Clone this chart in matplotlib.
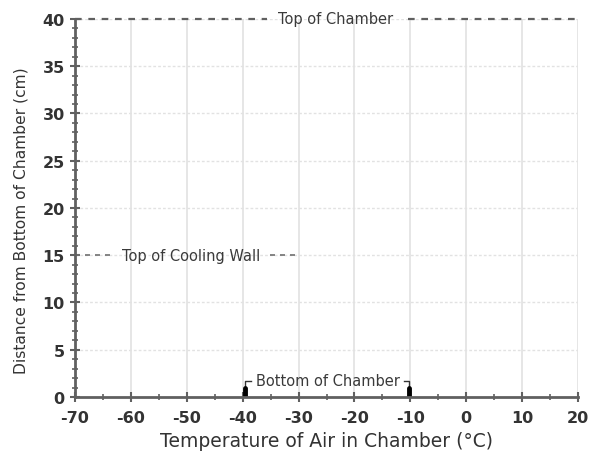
import numpy as np
import matplotlib.pyplot as plt
from matplotlib.ticker import MultipleLocator

plt.rcParams['font.family'] = ['DejaVu Sans']
plt.rcParams['axes.unicode_minus'] = False

# axis ranges and ticks
x_ticks = [-70, -60, -50, -40, -30, -20, -10, 0, 10, 20]
y_ticks = [0, 5, 10, 15, 20, 25, 30, 35, 40]

# top of chamber line (y=40), broken around its label
top_y = 40
top_segments = [(-70, -35.7), (-10.4, 20)]
top_label_x = -23.3

# top of cooling wall line (y=15)
wall_y = 15
wall_segments = [(-70, -63.7), (-35.1, -30.3)]
wall_label_x = -49.3

# bottom of chamber bracket
bottom_x = [-39.5, -10.2]
bracket_y = 1.7
bottom_label_x = -24.8

fig = plt.figure(figsize=(5.91, 4.52), dpi=100)
ax = fig.add_axes([0.127, 0.1195, 0.851, 0.8363])

ax.set_xlim(-70, 20)
ax.set_ylim(0, 40)
ax.set_xticks(x_ticks)
ax.set_yticks(y_ticks)
ax.xaxis.set_minor_locator(MultipleLocator(5))
ax.yaxis.set_minor_locator(MultipleLocator(1))

for xv in x_ticks[1:]:
    ax.axvline(xv, color='#e2e2e2', lw=1.2, zorder=0)
for yv in y_ticks[1:]:
    ax.axhline(yv, color='#e2e2e2', lw=1.0, ls=(0, (2, 1.5)), zorder=0)

for s in ['top', 'right']:
    ax.spines[s].set_visible(False)
for s in ['left', 'bottom']:
    ax.spines[s].set_color('#606060')
    ax.spines[s].set_linewidth(2.0)

ax.tick_params(which='major', direction='inout', length=7, width=1.5, color='#606060',
               labelsize=11.5, labelcolor='#333333', pad=4)
ax.tick_params(axis='x', which='major', pad=6)
ax.tick_params(which='minor', direction='inout', length=4, width=1.2, color='#606060')
for lab in ax.get_xticklabels() + ax.get_yticklabels():
    lab.set_fontweight('bold')

dash = (0, (3, 3))
for x0, x1 in top_segments:
    ax.plot([x0, x1], [top_y, top_y], color='#606060', lw=1.6, ls=dash, clip_on=False)
ax.text(top_label_x, top_y, 'Top of Chamber', ha='center', va='center',
        fontsize=10.5, color='#3a3a3a')

for x0, x1 in wall_segments:
    ax.plot([x0, x1], [wall_y, wall_y], color='#707070', lw=1.2, ls=dash)
ax.text(wall_label_x, wall_y, 'Top of Cooling Wall', ha='center', va='center',
        fontsize=10.5, color='#3a3a3a')

# bracket with markers
ax.plot([bottom_x[0], bottom_x[0], bottom_x[0] + 0.9], [0, bracket_y, bracket_y],
        color='#333333', lw=1.0)
ax.plot([bottom_x[1], bottom_x[1], bottom_x[1] - 0.9], [0, bracket_y, bracket_y],
        color='#333333', lw=1.0)
for xb in bottom_x:
    ax.plot([xb, xb], [0, 0.9], color='black', lw=3.5, solid_capstyle='round')
ax.text(bottom_label_x, bracket_y, 'Bottom of Chamber', ha='center', va='center',
        fontsize=10.5, color='#3a3a3a')

ax.set_xlabel('Temperature of Air in Chamber (°C)', fontsize=13.5, color='#333333',
              labelpad=4)
ax.set_ylabel('Distance from Bottom of Chamber (cm)', fontsize=11.2, color='#333333')
ax.yaxis.set_label_coords(-0.092, 0.47)

fig.savefig('out.png', dpi=100)
